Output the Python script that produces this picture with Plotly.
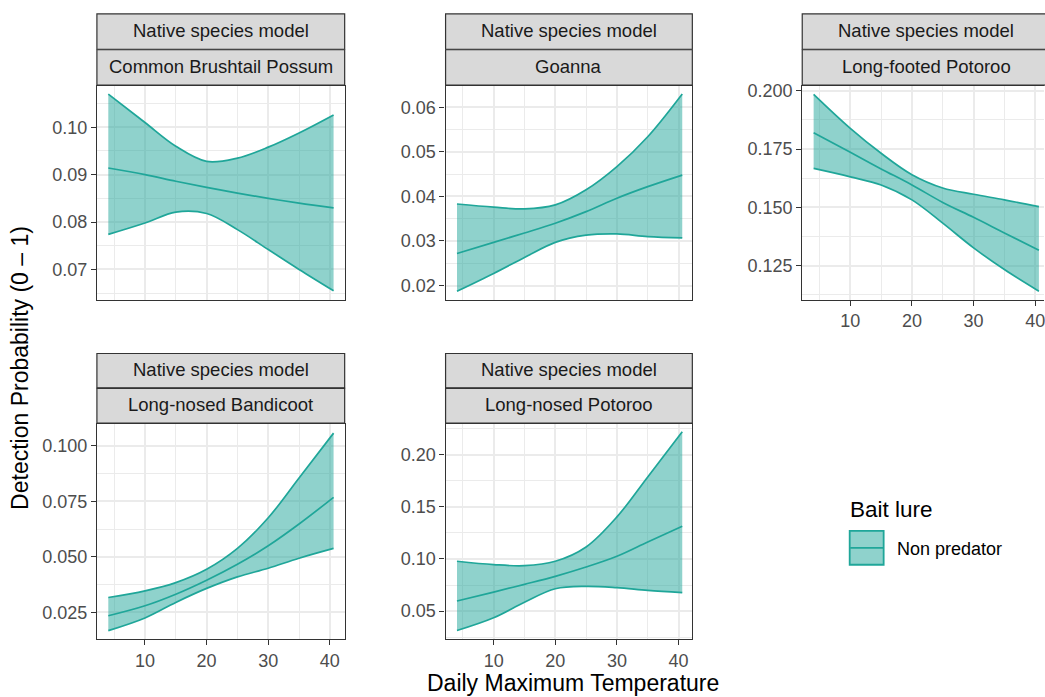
import plotly.graph_objects as go

W, H = 1045, 697

# ---------------- data ----------------
temp = [4.05, 10, 15, 20, 25, 30, 35, 40.6]
model_label = "Native species model"
species = ["Common Brushtail Possum", "Goanna", "Long-footed Potoroo",
           "Long-nosed Bandicoot", "Long-nosed Potoroo"]

possum_upper = [0.1070, 0.1010, 0.0960, 0.0928, 0.0935, 0.0958, 0.0988, 0.1026]
possum_mean = [0.0914, 0.0900, 0.0886, 0.0873, 0.0861, 0.0850, 0.0840, 0.0830]
possum_lower = [0.0774, 0.0798, 0.0821, 0.0818, 0.0784, 0.0742, 0.0700, 0.0655]

goanna_upper = [0.0383, 0.0376, 0.0372, 0.0381, 0.0415, 0.0467, 0.0534, 0.0630]
goanna_mean = [0.0272, 0.0297, 0.0318, 0.0340, 0.0366, 0.0396, 0.0422, 0.0448]
goanna_lower = [0.0187, 0.0227, 0.0263, 0.0297, 0.0313, 0.0316, 0.0310, 0.0307]

lfpot_upper = [0.1985, 0.1839, 0.1732, 0.1640, 0.1583, 0.1556, 0.1532, 0.1503]
lfpot_mean = [0.1820, 0.1736, 0.1665, 0.1596, 0.1521, 0.1457, 0.1390, 0.1316]
lfpot_lower = [0.1667, 0.1631, 0.1596, 0.1532, 0.1432, 0.1326, 0.1233, 0.1140]

bandi_upper = [0.0317, 0.0347, 0.0384, 0.0444, 0.0538, 0.0676, 0.0855, 0.1057]
bandi_mean = [0.0235, 0.0280, 0.0332, 0.0395, 0.0467, 0.0550, 0.0648, 0.0768]
bandi_lower = [0.0168, 0.0225, 0.0295, 0.0358, 0.0410, 0.0449, 0.0494, 0.0538]

lnpot_upper = [0.0978, 0.0946, 0.0936, 0.0978, 0.1115, 0.1403, 0.1786, 0.2218]
lnpot_mean = [0.0597, 0.0683, 0.0757, 0.0834, 0.0923, 0.1026, 0.1163, 0.1314]
lnpot_lower = [0.0315, 0.0437, 0.0586, 0.0715, 0.0738, 0.0725, 0.0699, 0.0677]

x_ticks = [10, 20, 30, 40]
y_ticks = [
    [0.07, 0.08, 0.09, 0.10],
    [0.02, 0.03, 0.04, 0.05, 0.06],
    [0.125, 0.150, 0.175, 0.200],
    [0.025, 0.050, 0.075, 0.100],
    [0.05, 0.10, 0.15, 0.20],
]
y_ticktext = [
    ["0.07", "0.08", "0.09", "0.10"],
    ["0.02", "0.03", "0.04", "0.05", "0.06"],
    ["0.125", "0.150", "0.175", "0.200"],
    ["0.025", "0.050", "0.075", "0.100"],
    ["0.05", "0.10", "0.15", "0.20"],
]
y_ranges = [
    [0.0636, 0.1088],
    [0.0168, 0.0649],
    [0.1103, 0.2023],
    [0.0131, 0.1100],
    [0.0235, 0.2297],
]
legend_title = "Bait lure"
legend_label = "Non predator"
x_title = "Daily Maximum Temperature"
y_title = "Detection Probability (0 \u2013 1)"

uppers = [possum_upper, goanna_upper, lfpot_upper, bandi_upper, lnpot_upper]
means = [possum_mean, goanna_mean, lfpot_mean, bandi_mean, lnpot_mean]
lowers = [possum_lower, goanna_lower, lfpot_lower, bandi_lower, lnpot_lower]

# ---------------- style / layout ----------------
LINE = "#1FA699"
FILL = "rgba(31,166,153,0.5)"
FONT = "Liberation Sans, Arial, Helvetica, sans-serif"
BORDER = "#333333"
GRID = "#EBEBEB"
SMOOTH = 1.0


def px(xp):
    return xp / W


def py(yp):
    return 1 - yp / H


cols = [(97, 345), (446, 693), (803, 1045)]
rows = [(82, 297.5), (422, 638.5)]
strip_rows = [((10, 45.5), (46, 81.5)), ((351.5, 386), (386.5, 421.5))]
positions = [(0, 0), (0, 1), (0, 2), (1, 0), (1, 1)]
show_xlabels = [False, False, True, True, True]

fig = go.Figure()
shapes = []
annotations = []
layout_axes = {}

scale = (345 - 97) / 40.2  # px per x unit
for i in range(5):
    r, c = positions[i]
    idx = "" if i == 0 else str(i + 1)
    xa, ya = "x" + idx, "y" + idx
    x0, x1 = cols[c]
    y0, y1 = rows[r]
    xr = [2.2, 2.2 + (x1 - x0) / scale]
    is_cut = (c == 2)

    line_style = dict(color=LINE, width=1.7, shape="spline", smoothing=SMOOTH)
    fig.add_trace(go.Scatter(x=temp, y=lowers[i], mode="lines", line=line_style,
                             xaxis=xa, yaxis=ya, showlegend=False, hoverinfo="skip"))
    fig.add_trace(go.Scatter(x=temp, y=uppers[i], mode="lines", fill="tonexty",
                             fillcolor=FILL, line=line_style,
                             xaxis=xa, yaxis=ya, showlegend=False, hoverinfo="skip"))
    fig.add_trace(go.Scatter(x=temp, y=means[i], mode="lines", line=line_style,
                             xaxis=xa, yaxis=ya, showlegend=False, hoverinfo="skip"))

    yt = y_ticks[i]
    ystep = yt[1] - yt[0]
    layout_axes["xaxis" + idx] = dict(
        domain=[px(x0), px(x1)], range=xr, anchor=ya,
        tickvals=x_ticks, ticktext=[str(v) for v in x_ticks],
        showticklabels=show_xlabels[i],
        ticklabeloverflow="allow",
        ticks="outside" if show_xlabels[i] else "", ticklen=5, tickwidth=1.2,
        tickcolor=BORDER,
        tickfont=dict(family=FONT, size=18, color="#4D4D4D"),
        showgrid=True, gridcolor=GRID, gridwidth=1.8,
        minor=dict(tick0=0, dtick=5, showgrid=True, gridcolor=GRID, gridwidth=0.9),
        showline=True, linecolor=BORDER, linewidth=1.2, mirror=True,
        zeroline=False, fixedrange=True,
    )
    layout_axes["yaxis" + idx] = dict(
        domain=[py(y1), py(y0)], range=y_ranges[i], anchor=xa,
        tickvals=yt, ticktext=y_ticktext[i],
        ticks="outside", ticklen=5, tickwidth=1.2, tickcolor=BORDER,
        tickfont=dict(family=FONT, size=18, color="#4D4D4D"),
        showgrid=True, gridcolor=GRID, gridwidth=1.8,
        minor=dict(tick0=yt[0] - ystep / 2, dtick=ystep, showgrid=True,
                   gridcolor=GRID, gridwidth=0.9),
        showline=True, linecolor=BORDER, linewidth=1.2,
        mirror=(not is_cut),
        zeroline=False, fixedrange=True,
    )

    # strips
    (s1a, s1b), (s2a, s2b) = strip_rows[r]
    sx1 = x1 if not is_cut else 1051
    for (sa, sb), label in (((s1a, s1b), model_label), ((s2a, s2b), species[i])):
        shapes.append(dict(type="rect", xref="paper", yref="paper",
                           x0=px(x0), x1=px(sx1), y0=py(sb), y1=py(sa),
                           fillcolor="#D9D9D9", line=dict(color=BORDER, width=1.2),
                           layer="above"))
        annotations.append(dict(text=label, xref="paper", yref="paper",
                                x=px((x0 + sx1) / 2), y=py((sa + sb) / 2 - 1),
                                xanchor="center", yanchor="middle", showarrow=False,
                                font=dict(family=FONT, size=18.5, color="#1A1A1A")))

# axis titles
annotations.append(dict(text=x_title, xref="paper", yref="paper",
                        x=px(574), y=py(683), xanchor="center", yanchor="middle",
                        showarrow=False, font=dict(family=FONT, size=23, color="black")))
annotations.append(dict(text=y_title, xref="paper", yref="paper",
                        x=px(20), y=py(366), xanchor="center", yanchor="middle",
                        textangle=-90, showarrow=False,
                        font=dict(family=FONT, size=23, color="black")))

# legend (drawn manually)
annotations.append(dict(text=legend_title, xref="paper", yref="paper",
                        x=px(849), y=py(508), xanchor="left", yanchor="middle",
                        showarrow=False, font=dict(family=FONT, size=22.5, color="black")))
annotations.append(dict(text=legend_label, xref="paper", yref="paper",
                        x=px(896), y=py(548), xanchor="left", yanchor="middle",
                        showarrow=False, font=dict(family=FONT, size=18, color="black")))
shapes.append(dict(type="rect", xref="paper", yref="paper",
                   x0=px(850.5), x1=px(884.5), y0=py(564), y1=py(530),
                   fillcolor=FILL, line=dict(color=LINE, width=1.8)))
shapes.append(dict(type="line", xref="paper", yref="paper",
                   x0=px(851), x1=px(884), y0=py(547), y1=py(547),
                   line=dict(color=LINE, width=1.8)))

fig.update_layout(
    width=W, height=H,
    margin=dict(l=0, r=0, t=0, b=0),
    paper_bgcolor="white", plot_bgcolor="white",
    shapes=shapes, annotations=annotations,
    showlegend=False,
    **layout_axes,
)

fig.write_html("out.html", config={"displayModeBar": False})
